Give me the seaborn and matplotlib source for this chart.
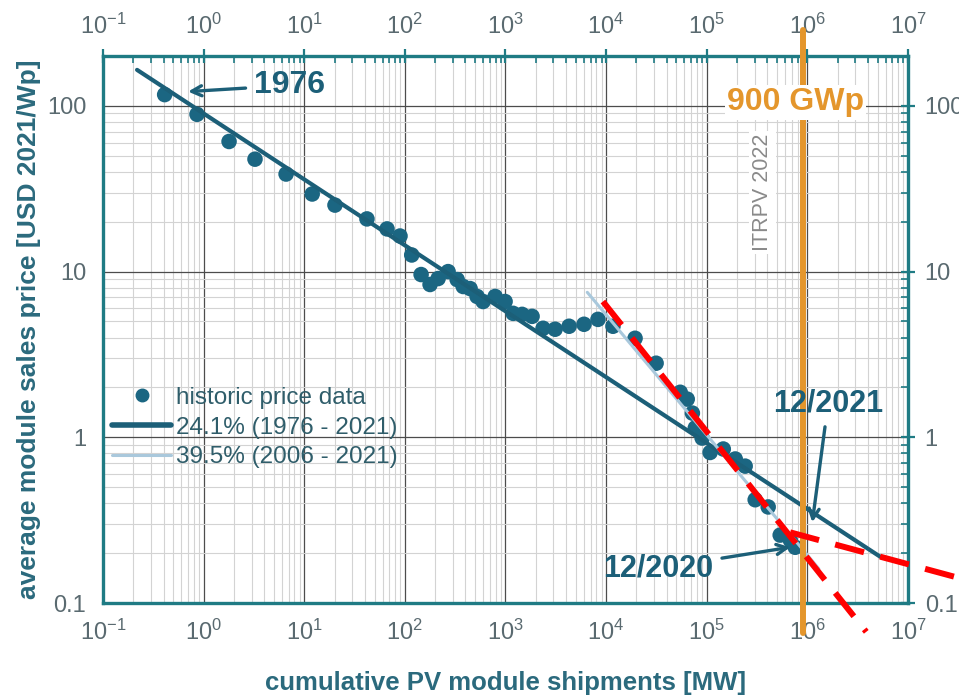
import numpy as np
import pandas as pd
import matplotlib
matplotlib.use("Agg")
import matplotlib.pyplot as plt
import seaborn as sns
from matplotlib.ticker import LogLocator, FixedLocator, FuncFormatter, NullFormatter
from matplotlib.lines import Line2D

# Historic module price data: cumulative shipments [MW] vs. price [USD 2021/Wp]
shipments_mw = [0.41, 0.86, 1.79, 3.24, 6.6, 12, 20.2, 42, 66.5, 89.5, 117,
                145, 178, 214, 269, 331, 380, 445, 522, 599, 789, 991,
                1191, 1463, 1838, 2364, 3112, 4287, 6030, 8300, 11700, 19400,
                31400, 54500, 64000, 72000, 77000, 90000, 108000, 146000,
                192000, 241000, 303000, 408000, 537000, 676000, 757000]
price_usd = [117, 89, 61, 47.7, 38.8, 29.4, 25.2, 20.8, 18.1, 16.4, 12.6,
             9.6, 8.36, 9.08, 10.0, 8.95, 8.13, 7.9, 7.08, 6.6, 7.08, 6.6,
             5.6, 5.52, 5.37, 4.55, 4.49, 4.68, 4.81, 5.15, 4.68, 3.96,
             2.8, 1.87, 1.70, 1.40, 1.14, 0.99, 0.81, 0.85,
             0.74, 0.67, 0.42, 0.38, 0.257, 0.24, 0.217]

# Learning-rate fits (price drop per doubling of cumulative shipments)
lr_long = 24.1
lr_long_label = "24.1% (1976 - 2021)"
lr_long_x = [0.218, 5.3e6]
lr_long_p0 = 165.0

lr_short = 39.5
lr_short_label = "39.5% (2006 - 2021)"
lr_short_x = [6.5e3, 1.3e6]
lr_short_p0 = 7.5

# Projection overlays
proj_steep_x = [9.3e3, 3.85e6]
proj_steep_y = [6.6, 0.067]
proj_flat_x = [6.75e5, 3.3e7]
proj_flat_y = [0.267, 0.141]

# 900 GWp cumulative installation marker
marker_mw = 9e5

x_ticks = [1e-1, 1e0, 1e1, 1e2, 1e3, 1e4, 1e5, 1e6, 1e7]
y_ticks = [0.1, 1, 10, 100]
y_tick_labels = ["0.1", "1", "10", "100"]


def learning_curve(xs, p0, lr):
    xs = np.asarray(xs, dtype=float)
    return p0 * (xs / xs[0]) ** np.log2(1 - lr / 100.0)


def y_label_for(v, pos):
    i = int(np.argmin([abs(np.log10(t) - np.log10(v)) for t in y_ticks]))
    return y_tick_labels[i]


sns.set_theme(style="white")
plt.rcParams["font.family"] = ["Liberation Sans", "DejaVu Sans"]
plt.rcParams["mathtext.default"] = "regular"

TEAL_DOT = "#1b6682"
TEAL_LINE = "#1c5f78"
LIGHT_LINE = "#a9c8dc"
SPINE = "#1f7b84"
TICK_TXT = "#5a6a70"
LABEL_TXT = "#2b6a7d"
ORANGE = "#e4962c"
RED = "#ff0000"

fig = plt.figure(figsize=(9.59, 6.96), dpi=100)
ax = fig.add_axes([0.1074, 0.1336, 0.8394, 0.7859])
ax.set_xscale("log")
ax.set_yscale("log")
ax.set_xlim(0.1, 1e7)
ax.set_ylim(0.1, 200)

df = pd.DataFrame({"shipments": shipments_mw, "price": price_usd})
sns.scatterplot(data=df, x="shipments", y="price", ax=ax, s=125,
                color=TEAL_DOT, edgecolor="none", zorder=3, legend=False)

sns.lineplot(x=lr_long_x, y=learning_curve(lr_long_x, lr_long_p0, lr_long),
             ax=ax, color=TEAL_LINE, lw=3.0, zorder=4)
sns.lineplot(x=lr_short_x, y=learning_curve(lr_short_x, lr_short_p0, lr_short),
             ax=ax, color=LIGHT_LINE, lw=2.2, zorder=4)

# Grid
ax.set_axisbelow(True)
ax.grid(which="major", color="#4c4c4c", lw=0.9)
ax.grid(which="minor", color="#d3d3d3", lw=0.8)

# Ticks
ax.xaxis.set_major_locator(FixedLocator(x_ticks))
ax.xaxis.set_minor_locator(LogLocator(base=10, subs=np.arange(2, 10), numticks=20))
ax.xaxis.set_minor_formatter(NullFormatter())
ax.xaxis.set_major_formatter(FuncFormatter(lambda v, p: r"$10^{%d}$" % int(round(np.log10(v)))))
ax.yaxis.set_major_locator(FixedLocator(y_ticks))
ax.yaxis.set_major_formatter(FuncFormatter(y_label_for))
ax.yaxis.set_minor_locator(LogLocator(base=10, subs=np.arange(2, 10), numticks=20))
ax.yaxis.set_minor_formatter(NullFormatter())

ax.tick_params(which="major", direction="inout", length=10, width=1.6, color=SPINE,
               labelsize=17, labelcolor=TICK_TXT, top=True, right=True,
               labeltop=True, labelright=True, pad=7)
ax.tick_params(which="minor", direction="in", length=5, width=1.2, color=SPINE,
               top=True, right=True)

for s in ax.spines.values():
    s.set_color(SPINE)
    s.set_linewidth(2.4)

ax.set_xlabel("cumulative PV module shipments [MW]", fontsize=18.5, fontweight="bold",
              color=LABEL_TXT, labelpad=19)
ax.set_ylabel("average module sales price [USD 2021/Wp]", fontsize=19, fontweight="bold",
              color=LABEL_TXT, labelpad=4)

# 900 GWp marker line
ax.axvline(marker_mw, ymin=-0.055, ymax=1.048, color=ORANGE, lw=4.3, zorder=5, clip_on=False)
ax.text(7.6e5, 105, "900 GWp", fontsize=23, fontweight="bold", color=ORANGE,
        ha="center", va="center", zorder=7,
        bbox=dict(facecolor="white", edgecolor="none", pad=1.5))
ax.text(3.56e5, 30.2, "ITRPV 2022", fontsize=15.5, color="#8a8a8a", rotation=90,
        ha="center", va="center", zorder=2,
        bbox=dict(facecolor="white", edgecolor="none", pad=2))

# Projection overlays
ax.plot(proj_steep_x, proj_steep_y, color=RED, lw=4.3, ls=(0, (5, 2.8)),
        zorder=8, clip_on=False, dash_capstyle="butt")
ax.plot(proj_flat_x, proj_flat_y, color=RED, lw=4.3, ls=(0, (5, 2.8)),
        zorder=8, clip_on=False, dash_capstyle="butt")

# Annotations
arrow = dict(arrowstyle="->", lw=2.4, color=TEAL_LINE, mutation_scale=18,
             shrinkA=4, shrinkB=0)
ax.annotate("1976", xy=(0.70, 122), xytext=(7.2, 133), fontsize=23, fontweight="bold",
            color=TEAL_LINE, ha="center", va="center", arrowprops=arrow, zorder=7)
ax.annotate("12/2021", xy=(1.12e6, 0.307), xytext=(1.61e6, 1.61), fontsize=22,
            fontweight="bold", color=TEAL_LINE, ha="center", va="center",
            arrowprops=arrow, zorder=7)
ax.annotate("12/2020", xy=(6.75e5, 0.217), xytext=(3.29e4, 0.162), fontsize=22,
            fontweight="bold", color=TEAL_LINE, ha="center", va="center",
            arrowprops=arrow, zorder=7)

# Legend
handles = [
    Line2D([], [], marker="o", ls="none", color=TEAL_DOT, markersize=9),
    Line2D([], [], color=TEAL_LINE, lw=4),
    Line2D([], [], color=LIGHT_LINE, lw=2.2),
]
labels = ["historic price data", lr_long_label, lr_short_label]
ax.legend(handles, labels, loc="upper left", bbox_to_anchor=(0.011, 0.395),
          frameon=False, fontsize=17.5, labelcolor="#2f5d6a", handlelength=2.45,
          handletextpad=0.2, labelspacing=0.31, borderpad=0, borderaxespad=0)

fig.savefig("out.png", dpi=100)
